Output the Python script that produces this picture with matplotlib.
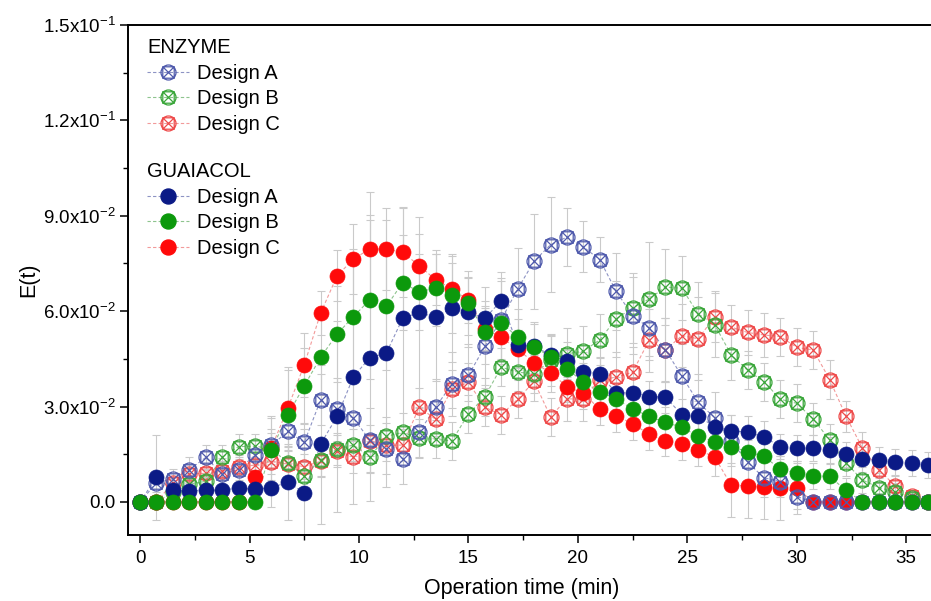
import numpy as np
import matplotlib
matplotlib.use('Agg')
import matplotlib.pyplot as plt
from matplotlib.path import Path
from matplotlib.lines import Line2D
from matplotlib.ticker import FixedLocator, MultipleLocator

plt.rcParams['font.family'] = ['Liberation Sans', 'DejaVu Sans']
plt.rcParams['mathtext.fontset'] = 'custom'
plt.rcParams['mathtext.rm'] = 'Liberation Sans'
plt.rcParams['mathtext.it'] = 'Liberation Sans:italic'
plt.rcParams['mathtext.bf'] = 'Liberation Sans:bold'

# ---------------- data ----------------
time = [0.0, 0.75, 1.5, 2.25, 3.0, 3.75, 4.5, 5.25, 6.0, 6.75, 7.5, 8.25, 9.0,
        9.75, 10.5, 11.25, 12.0, 12.75, 13.5, 14.25, 15.0, 15.75, 16.5, 17.25,
        18.0, 18.75, 19.5, 20.25, 21.0, 21.75, 22.5, 23.25, 24.0, 24.75, 25.5,
        26.25, 27.0, 27.75, 28.5, 29.25, 30.0, 30.75, 31.5, 32.25, 33.0, 33.75,
        34.5, 35.25, 36.0]

enz_A = [0.0, 0.0060, 0.0073, 0.0101, 0.0140, 0.0088, 0.0102, 0.0147, 0.0178,
         0.0222, 0.0187, 0.0321, 0.0291, 0.0263, 0.0194, 0.0167, 0.0136, 0.0219,
         0.0298, 0.0371, 0.0398, 0.0489, 0.0573, 0.0670, 0.0757, 0.0809, 0.0833,
         0.0802, 0.0762, 0.0662, 0.0586, 0.0547, 0.0478, 0.0396, 0.0313, 0.0265,
         0.0192, 0.0125, 0.0076, 0.0064, 0.0017, 0.0, 0.0, 0.0, 0.0, 0.0, 0.0,
         0.0, 0.0]
enz_B = [0.0, 0.0, 0.0030, 0.0055, 0.0065, 0.0140, 0.0174, 0.0175, 0.0168,
         0.0122, 0.0082, 0.0132, 0.0166, 0.0179, 0.0141, 0.0206, 0.0219, 0.0200,
         0.0197, 0.0192, 0.0277, 0.0331, 0.0424, 0.0408, 0.0403, 0.0445, 0.0466,
         0.0474, 0.0510, 0.0576, 0.0610, 0.0638, 0.0676, 0.0672, 0.0591, 0.0557,
         0.0463, 0.0414, 0.0378, 0.0323, 0.0310, 0.0261, 0.0195, 0.0122, 0.0069,
         0.0045, 0.0031, 0.0012, 0.0]
enz_C = [0.0, 0.0, 0.0060, 0.0088, 0.0090, 0.0097, 0.0109, 0.0116, 0.0127,
         0.0119, 0.0111, 0.0128, 0.0160, 0.0142, 0.0193, 0.0178, 0.0179, 0.0298,
         0.0260, 0.0355, 0.0376, 0.0298, 0.0274, 0.0323, 0.0379, 0.0268, 0.0324,
         0.0324, 0.0385, 0.0392, 0.0408, 0.0508, 0.0478, 0.0523, 0.0513, 0.0583,
         0.0550, 0.0533, 0.0525, 0.0520, 0.0486, 0.0478, 0.0385, 0.0269, 0.0169,
         0.0101, 0.0050, 0.0018, 0.0]

gua_A = [0.0, 0.0077, 0.0038, 0.0033, 0.0038, 0.0036, 0.0045, 0.0040, 0.0045,
         0.0062, 0.0029, 0.0182, 0.0269, 0.0394, 0.0454, 0.0468, 0.0578, 0.0596,
         0.0581, 0.0610, 0.0596, 0.0577, 0.0633, 0.0494, 0.0489, 0.0463, 0.0442,
         0.0410, 0.0403, 0.0342, 0.0344, 0.0331, 0.0330, 0.0274, 0.0269, 0.0237,
         0.0223, 0.0220, 0.0204, 0.0174, 0.0169, 0.0169, 0.0164, 0.0150, 0.0134,
         0.0132, 0.0125, 0.0122, 0.0116]
gua_B = [0.0, 0.0, 0.0, 0.0, 0.0, 0.0, 0.0, 0.0, 0.0164,
         0.0274, 0.0365, 0.0455, 0.0528, 0.0583, 0.0636, 0.0615, 0.0690, 0.0660,
         0.0673, 0.0652, 0.0625, 0.0533, 0.0564, 0.0518, 0.0487, 0.0457, 0.0419,
         0.0377, 0.0347, 0.0323, 0.0293, 0.0269, 0.0250, 0.0235, 0.0206, 0.0190,
         0.0174, 0.0158, 0.0143, 0.0103, 0.0090, 0.0082, 0.0080, 0.0036, 0.0,
         0.0, 0.0, 0.0, 0.0]
gua_C = [0.0, 0.0, 0.0, 0.0, 0.0, 0.0, 0.0, 0.0077, 0.0170,
         0.0295, 0.0431, 0.0594, 0.0711, 0.0764, 0.0796, 0.0795, 0.0785, 0.0743,
         0.0699, 0.0670, 0.0634, 0.0545, 0.0518, 0.0480, 0.0438, 0.0406, 0.0363,
         0.0342, 0.0291, 0.0271, 0.0246, 0.0213, 0.0193, 0.0182, 0.0164, 0.0141,
         0.0053, 0.0050, 0.0047, 0.0043, 0.0043, 0.0, 0.0, 0.0, 0.0,
         0.0, 0.0, 0.0, 0.0]

# standard deviations (estimated from the grey error bars)
err_enz_A = [0.0, 0.003, 0.003, 0.004, 0.004, 0.004, 0.004, 0.005, 0.005,
             0.006, 0.006, 0.008, 0.010, 0.012, 0.010, 0.008, 0.008, 0.008,
             0.009, 0.010, 0.010, 0.012, 0.013, 0.013, 0.015, 0.015, 0.009,
             0.008, 0.007, 0.012, 0.012, 0.010, 0.010, 0.010, 0.009, 0.008,
             0.008, 0.007, 0.006, 0.005, 0.004, 0.002, 0.002, 0.002, 0.002,
             0.002, 0.002, 0.002, 0.002]
err_enz_B = [0.0, 0.002, 0.003, 0.003, 0.004, 0.004, 0.004, 0.004, 0.005,
             0.005, 0.005, 0.005, 0.005, 0.005, 0.005, 0.006, 0.006, 0.006,
             0.006, 0.006, 0.006, 0.006, 0.006, 0.006, 0.006, 0.008, 0.008,
             0.008, 0.008, 0.012, 0.011, 0.018, 0.012, 0.010, 0.010, 0.010,
             0.008, 0.006, 0.006, 0.006, 0.006, 0.005, 0.005, 0.004, 0.004,
             0.003, 0.003, 0.002, 0.002]
err_enz_C = [0.0, 0.002, 0.003, 0.003, 0.003, 0.004, 0.004, 0.004, 0.004,
             0.004, 0.004, 0.005, 0.005, 0.005, 0.005, 0.005, 0.005, 0.006,
             0.006, 0.006, 0.006, 0.006, 0.006, 0.006, 0.006, 0.006, 0.007,
             0.007, 0.007, 0.008, 0.008, 0.010, 0.010, 0.010, 0.013, 0.008,
             0.007, 0.007, 0.007, 0.006, 0.006, 0.006, 0.006, 0.005, 0.005,
             0.004, 0.003, 0.002, 0.002]
err_gua_A = [0.0, 0.0135, 0.003, 0.003, 0.004, 0.004, 0.004, 0.005, 0.006,
             0.012, 0.020, 0.025, 0.030, 0.040, 0.045, 0.042, 0.035, 0.030,
             0.020, 0.017, 0.011, 0.010, 0.009, 0.008, 0.007, 0.006, 0.006,
             0.006, 0.005, 0.005, 0.005, 0.005, 0.005, 0.005, 0.005, 0.005,
             0.005, 0.005, 0.005, 0.004, 0.004, 0.004, 0.004, 0.004, 0.004,
             0.004, 0.004, 0.004, 0.004]
err_gua_B = [0.002, 0.002, 0.002, 0.002, 0.002, 0.002, 0.002, 0.002, 0.010,
             0.015, 0.012, 0.012, 0.015, 0.020, 0.025, 0.020, 0.015, 0.012,
             0.012, 0.012, 0.010, 0.010, 0.013, 0.009, 0.008, 0.007, 0.006,
             0.006, 0.005, 0.005, 0.005, 0.005, 0.005, 0.005, 0.005, 0.005,
             0.005, 0.005, 0.005, 0.004, 0.004, 0.004, 0.004, 0.004, 0.002,
             0.002, 0.002, 0.002, 0.002]
err_gua_C = [0.0, 0.0, 0.0, 0.0, 0.0, 0.0, 0.0, 0.004, 0.010,
             0.012, 0.010, 0.007, 0.008, 0.011, 0.018, 0.013, 0.014, 0.010,
             0.008, 0.008, 0.007, 0.007, 0.007, 0.006, 0.006, 0.006, 0.005,
             0.005, 0.005, 0.005, 0.005, 0.005, 0.005, 0.005, 0.005, 0.006,
             0.010, 0.010, 0.010, 0.010, 0.008, 0.002, 0.002, 0.002, 0.002,
             0.002, 0.002, 0.002, 0.002]

labels = ['Design A', 'Design B', 'Design C']
y_ticks = [0.0, 0.03, 0.06, 0.09, 0.12, 0.15]
y_ticklabels = ['0.0', r'3.0x10$^{-2}$', r'6.0x10$^{-2}$', r'9.0x10$^{-2}$',
                r'1.2x10$^{-1}$', r'1.5x10$^{-1}$']
x_ticks = [0, 5, 10, 15, 20, 25, 30, 35]

# ---------------- styles ----------------
c_gua = ['#0b1a86', '#0c990c', '#ff0a0a']
c_enz = ['#4f5aac', '#3aa63a', '#ee4a4a']
c_line = ['#8d93c4', '#8ec48e', '#f29a9a']

s = 0.76
sq = Path([(-s, -s), (s, -s), (s, s), (-s, s), (-s, -s)],
          [Path.MOVETO, Path.LINETO, Path.LINETO, Path.LINETO, Path.CLOSEPOLY])
xl = Path([(-s, -s), (s, s), (-s, s), (s, -s)],
          [Path.MOVETO, Path.LINETO, Path.MOVETO, Path.LINETO])
enz_marker = Path.make_compound_path(sq, Path.unit_circle(), xl)

fig = plt.figure(figsize=(9.31, 6.01), dpi=100)
ax = fig.add_axes([128 / 931, 66 / 601, 833 / 931, 510 / 601])

enz = [enz_A, enz_B, enz_C]
gua = [gua_A, gua_B, gua_C]
err_enz = [err_enz_A, err_enz_B, err_enz_C]
err_gua = [err_gua_A, err_gua_B, err_gua_C]

dash = (0, (3, 2))
for k in range(3):
    ax.errorbar(time, enz[k], yerr=err_enz[k], fmt='none', ecolor='#cacaca',
                elinewidth=0.8, capsize=3, capthick=0.8, zorder=1)
    ax.errorbar(time, gua[k], yerr=err_gua[k], fmt='none', ecolor='#cacaca',
                elinewidth=0.8, capsize=3, capthick=0.8, zorder=1)
for k in range(3):
    ax.plot(time, enz[k], ls=dash, lw=0.8, color=c_line[k], zorder=2)
    ax.plot(time, gua[k], ls=dash, lw=0.8, color=c_line[k], zorder=2)

# marker layers
mk_kw = dict(ls='none', markersize=10.8)
ax.plot(time, enz_C, marker=enz_marker, mfc='none', mec=c_enz[2], mew=0.9,
        zorder=3, **mk_kw)
ax.plot(time, enz_B, marker=enz_marker, mfc='none', mec=c_enz[1], mew=0.9,
        zorder=3.1, **mk_kw)
ax.plot(time, gua_C, marker='o', mfc=c_gua[2], mec=c_gua[2], mew=0.5,
        zorder=3.2, **mk_kw)
ax.plot(time, enz_A, marker=enz_marker, mfc='none', mec=c_enz[0], mew=0.9,
        zorder=3.3, **mk_kw)
ax.plot(time, gua_A, marker='o', mfc=c_gua[0], mec=c_gua[0], mew=0.5,
        zorder=3.4, **mk_kw)
ax.plot(time, gua_B, marker='o', mfc=c_gua[1], mec=c_gua[1], mew=0.5,
        zorder=3.5, **mk_kw)

# axes
ax.set_xlim(-0.55, 37.5)
ax.set_ylim(-0.0104, 0.15)
ax.xaxis.set_major_locator(FixedLocator(x_ticks))
ax.xaxis.set_minor_locator(MultipleLocator(2.5))
ax.yaxis.set_major_locator(FixedLocator(y_ticks))
ax.yaxis.set_minor_locator(MultipleLocator(0.015))
ax.set_yticklabels(y_ticklabels)
ax.set_xticklabels([str(v) for v in x_ticks])
ax.tick_params(which='major', direction='out', length=6, width=1.1,
               labelsize=13.5, pad=5)
ax.tick_params(which='minor', direction='out', length=3.5, width=1.0)
ax.tick_params(axis='y', labelsize=13.5, pad=3)
for sp in ax.spines.values():
    sp.set_linewidth(1.4)
ax.set_xlabel('Operation time (min)', fontsize=15.5)
ax.xaxis.set_label_coords((522 - 128) / 833, -0.084)
ax.set_ylabel('E(t)', fontsize=15.5)
ax.yaxis.set_label_coords(-0.106, 0.5)

# legends
def handle(k, filled):
    if filled:
        return Line2D([], [], ls=dash, lw=0.8, color=c_line[k], marker='o',
                      mfc=c_gua[k], mec=c_gua[k], markersize=10.8)
    return Line2D([], [], ls=dash, lw=0.8, color=c_line[k], marker=enz_marker,
                  mfc='none', mec=c_enz[k], mew=0.9, markersize=10.8)

leg_kw = dict(frameon=False, fontsize=14.5, title_fontsize=14.5,
              handlelength=2.1, handletextpad=0.4, labelspacing=0.33,
              borderpad=0, borderaxespad=0, alignment='left', loc='upper left')
leg1 = fig.legend([handle(k, False) for k in range(3)], labels, title='ENZYME',
                  bbox_to_anchor=(147 / 931, 1 - 38 / 601), **leg_kw)
leg2 = fig.legend([handle(k, True) for k in range(3)], labels, title='GUAIACOL',
                  bbox_to_anchor=(147 / 931, 1 - 162 / 601), **leg_kw)

fig.savefig('out.png', dpi=100)
